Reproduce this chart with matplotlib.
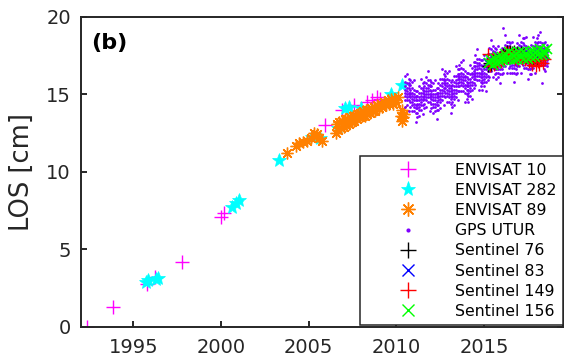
import matplotlib
matplotlib.use("Agg")
import matplotlib.pyplot as plt
from matplotlib.lines import Line2D
import numpy as np

# ---- data (years, LOS in cm) ----
env10_t = [1992.35, 1993.85, 1995.76, 1996.25, 1997.8, 2000.0, 2000.2, 2005.95,
           2006.9, 2007.6, 2008.3, 2008.6, 2008.9, 2009.05]
env10_los = [0.0, 1.25, 2.75, 3.2, 4.2, 7.05, 7.35, 13.0,
             14.0, 14.3, 14.5, 14.6, 14.8, 14.7]

env282_t = [1995.7, 1995.85, 1996.3, 1996.4, 2000.6, 2000.85, 2001.0, 2003.3,
            2005.2, 2005.65, 2006.7, 2007.1, 2007.3, 2008.0, 2009.7, 2010.3]
env282_los = [2.9, 3.0, 3.05, 3.15, 7.75, 8.0, 8.2, 10.75,
              12.25, 12.2, 12.85, 14.1, 14.2, 14.1, 15.0, 15.6]

env89_t = [2003.75, 2004.25, 2004.45, 2004.65, 2004.9, 2005.15, 2005.3, 2005.4,
           2005.5, 2005.6, 2005.75,
           2006.55, 2006.6, 2006.7, 2006.75, 2006.85, 2006.9, 2007.0, 2007.05,
           2007.15, 2007.2, 2007.3, 2007.35, 2007.45, 2007.5, 2007.6, 2007.65,
           2007.75, 2007.8, 2007.9, 2007.95, 2008.05, 2008.1, 2008.2, 2008.25,
           2008.35, 2008.4, 2008.5, 2008.55, 2008.65, 2008.7, 2008.8, 2008.9,
           2009.0, 2009.1, 2009.2, 2009.3, 2009.4, 2009.5, 2009.6, 2009.7,
           2009.8, 2009.9, 2010.0, 2010.1,
           2010.25, 2010.3, 2010.35, 2010.4, 2010.45]
env89_los = [11.2, 11.65, 11.85, 11.9, 11.95, 12.2, 12.5, 12.3,
             12.45, 12.2, 11.95,
             12.5, 13.1, 12.7, 13.2, 12.8, 13.3, 12.9, 13.4,
             13.0, 13.4, 13.1, 13.5, 13.2, 13.6, 13.3, 13.6,
             13.4, 13.7, 13.5, 13.8, 13.6, 13.9, 13.6, 14.0,
             13.7, 14.0, 13.8, 14.1, 13.9, 14.2, 13.9, 14.3,
             14.1, 14.4, 14.2, 14.5, 14.3, 14.6, 14.4, 14.7,
             14.4, 14.7, 14.5, 14.8,
             13.6, 14.0, 13.3, 13.5, 13.7]

# GPS UTUR: one row of readings per 0.1-year column of the cloud
gps_t = [2010.5, 2010.6, 2010.7, 2010.8, 2010.9, 2011.0, 2011.1, 2011.2, 2011.3,
         2011.4, 2011.5, 2011.6, 2011.7, 2011.8, 2011.9, 2012.0, 2012.1, 2012.2,
         2012.3, 2012.4, 2012.5, 2012.6, 2012.7, 2012.8, 2012.9, 2013.0, 2013.1,
         2013.2, 2013.3, 2013.4, 2013.5, 2013.6, 2013.7, 2013.8, 2013.9, 2014.0,
         2014.1, 2014.2, 2014.3, 2014.4, 2014.5, 2014.6, 2014.7, 2014.8, 2014.9,
         2015.0, 2015.1, 2015.2, 2015.3, 2015.4, 2015.5, 2015.6, 2015.7, 2015.8,
         2015.9, 2016.0, 2016.1, 2016.2, 2016.3, 2016.4, 2016.5, 2016.6, 2016.7,
         2016.8, 2016.9, 2017.0, 2017.1, 2017.2, 2017.3, 2017.4, 2017.5, 2017.6,
         2017.7, 2017.8, 2017.9, 2018.0, 2018.1, 2018.2, 2018.3, 2018.4, 2018.5,
         2018.6]
gps_los = [
    [14.2, 14.6, 14.9, 15.1, 15.3, 15.5, 15.8, 16.2],
    [14.3, 14.6, 14.8, 15.0, 15.2, 15.4, 15.7, 16.3],
    [13.9, 14.6, 14.9, 15.1, 15.4, 15.6, 15.7, 16.0],
    [14.2, 14.5, 14.8, 15.0, 15.1, 15.3, 15.6, 15.9],
    [13.9, 14.3, 14.5, 14.7, 14.9, 15.1, 15.4, 15.8],
    [13.9, 14.2, 14.4, 14.6, 14.8, 15.0, 15.3, 15.9],
    [13.2, 13.8, 14.1, 14.3, 14.6, 14.8, 14.9, 15.2],
    [13.5, 13.8, 14.1, 14.3, 14.4, 14.6, 14.9, 15.2],
    [13.6, 14.0, 14.2, 14.4, 14.6, 14.8, 15.1, 15.5],
    [14.0, 14.3, 14.5, 14.7, 14.9, 15.1, 15.4, 16.0],
    [13.7, 14.3, 14.6, 14.8, 15.1, 15.3, 15.4, 15.7],
    [14.1, 14.4, 14.7, 14.9, 15.0, 15.2, 15.5, 15.8],
    [14.2, 14.6, 14.8, 15.0, 15.2, 15.4, 15.7, 16.1],
    [14.5, 14.8, 15.0, 15.2, 15.4, 15.6, 15.9, 16.5],
    [13.9, 14.5, 14.8, 15.0, 15.3, 15.5, 15.6, 15.9],
    [14.1, 14.4, 14.7, 14.9, 15.0, 15.2, 15.5, 15.8],
    [13.8, 14.2, 14.4, 14.6, 14.8, 15.0, 15.3, 15.7],
    [13.9, 14.2, 14.4, 14.6, 14.8, 15.0, 15.3, 15.9],
    [13.4, 14.0, 14.3, 14.5, 14.8, 15.0, 15.1, 15.4],
    [14.0, 14.3, 14.6, 14.8, 14.9, 15.1, 15.4, 15.7],
    [14.1, 14.5, 14.7, 14.9, 15.1, 15.3, 15.6, 16.0],
    [14.6, 14.9, 15.1, 15.3, 15.5, 15.7, 16.0, 16.6],
    [14.3, 14.9, 15.2, 15.4, 15.7, 15.9, 16.0, 16.3],
    [14.8, 15.1, 15.4, 15.6, 15.7, 15.9, 16.2, 16.5],
    [14.5, 14.9, 15.1, 15.3, 15.5, 15.7, 16.0, 16.4],
    [14.5, 14.8, 15.0, 15.2, 15.4, 15.6, 15.9, 16.5],
    [13.8, 14.4, 14.7, 14.9, 15.2, 15.4, 15.5, 15.8],
    [14.2, 14.5, 14.8, 15.0, 15.1, 15.3, 15.6, 15.9],
    [14.3, 14.7, 14.9, 15.1, 15.3, 15.5, 15.8, 16.2],
    [14.8, 15.1, 15.3, 15.5, 15.7, 15.9, 16.2, 16.8],
    [14.6, 15.2, 15.5, 15.7, 16.0, 16.2, 16.3, 16.6],
    [15.2, 15.5, 15.8, 16.0, 16.1, 16.3, 16.6, 16.9],
    [15.2, 15.6, 15.8, 16.0, 16.2, 16.4, 16.7, 17.1],
    [15.2, 15.5, 15.7, 15.9, 16.1, 16.3, 16.6, 17.2],
    [14.5, 15.1, 15.4, 15.6, 15.9, 16.1, 16.2, 16.5],
    [14.7, 15.0, 15.3, 15.5, 15.6, 15.8, 16.1, 16.4],
    [14.5, 14.9, 15.1, 15.3, 15.5, 15.7, 16.0, 16.4],
    [14.9, 15.2, 15.4, 15.6, 15.8, 16.0, 16.3, 16.9],
    [14.7, 15.3, 15.6, 15.8, 16.1, 16.3, 16.4, 16.7],
    [15.4, 15.7, 16.0, 16.2, 16.3, 16.5, 16.8, 17.1],
    [15.6, 16.0, 16.2, 16.4, 16.6, 16.8, 17.1, 17.5],
    [15.9, 16.2, 16.4, 16.6, 16.8, 17.0, 17.3, 17.9],
    [15.3, 15.9, 16.2, 16.4, 16.7, 16.9, 17.0, 17.3],
    [15.5, 15.8, 16.1, 16.3, 16.4, 16.6, 16.9, 17.2],
    [15.3, 15.7, 15.9, 16.1, 16.3, 16.5, 16.8, 17.2],
    [15.5, 15.8, 16.0, 16.2, 16.4, 16.6, 16.9, 17.5],
    [15.2, 15.8, 16.1, 16.3, 16.6, 16.8, 16.9, 17.2],
    [15.9, 16.2, 16.5, 16.7, 16.8, 17.0, 17.3, 17.6],
    [16.1, 16.5, 16.7, 16.9, 17.1, 17.3, 17.6, 18.0],
    [16.5, 16.8, 17.0, 17.2, 17.4, 17.6, 17.9, 18.5],
    [16.1, 16.7, 17.0, 17.2, 17.5, 17.7, 17.8, 18.1],
    [16.3, 16.6, 16.9, 17.1, 17.2, 17.4, 17.7, 18.0],
    [16.0, 16.4, 16.6, 16.8, 17.0, 17.2, 17.5, 17.9],
    [16.1, 16.4, 16.6, 16.8, 17.0, 17.2, 17.5, 18.1],
    [15.7, 16.3, 16.6, 16.8, 17.1, 17.3, 17.4, 17.7],
    [16.3, 16.6, 16.9, 17.1, 17.2, 17.4, 17.7, 18.0],
    [16.4, 16.8, 17.0, 17.2, 17.4, 17.6, 17.9, 19.3],
    [16.8, 17.1, 17.3, 17.5, 17.7, 17.9, 18.2, 18.8],
    [16.4, 17.0, 17.3, 17.5, 17.8, 18.0, 18.1, 18.4],
    [16.7, 17.0, 17.3, 17.5, 17.6, 17.8, 18.1, 18.4],
    [16.4, 16.8, 17.0, 17.2, 17.4, 17.6, 17.9, 18.3],
    [16.4, 16.7, 16.9, 17.1, 17.3, 17.5, 17.8, 18.4],
    [15.8, 16.4, 16.7, 16.9, 17.2, 17.4, 17.5, 17.8],
    [16.3, 16.6, 16.9, 17.1, 17.2, 17.4, 17.7, 18.0],
    [16.4, 16.8, 17.0, 17.2, 17.4, 17.6, 17.9, 18.3],
    [16.8, 17.1, 17.3, 17.5, 17.7, 17.9, 18.2, 18.8],
    [16.4, 17.0, 17.3, 17.5, 17.8, 18.0, 18.1, 18.4],
    [16.9, 17.2, 17.5, 17.7, 17.8, 18.0, 18.3, 18.6],
    [16.7, 17.1, 17.3, 17.5, 17.7, 17.9, 18.2, 18.6],
    [16.7, 17.0, 17.2, 17.4, 17.6, 17.8, 18.1, 18.7],
    [16.0, 16.6, 16.9, 17.1, 17.4, 17.6, 17.7, 18.0],
    [16.3, 16.6, 16.9, 17.1, 17.2, 17.4, 17.7, 18.0],
    [16.3, 16.7, 16.9, 17.1, 17.3, 17.5, 17.8, 18.2],
    [16.7, 17.0, 17.2, 17.4, 17.6, 17.8, 18.1, 18.7],
    [16.4, 17.0, 17.3, 17.5, 17.8, 18.0, 18.1, 18.4],
    [16.9, 17.2, 17.5, 17.7, 17.8, 18.0, 18.3, 18.6],
    [16.9, 17.3, 17.5, 17.7, 17.9, 18.1, 18.4, 18.8],
    [17.0, 17.3, 17.5, 17.7, 17.9, 18.1, 18.4, 19.0],
    [15.7, 16.9, 17.2, 17.4, 17.7, 17.9, 18.0, 18.3],
    [16.6, 16.9, 17.2, 17.4, 17.5, 17.7, 18.0, 18.3],
    [16.5, 16.9, 17.1, 17.3, 17.5, 17.7, 18.0, 18.4],
    [16.8, 17.0, 17.2, 17.4, 17.5, 17.7, 17.9, 18.2],
]

s76_t = [2015.2, 2015.3, 2015.4, 2015.5, 2015.6, 2015.7, 2015.8, 2015.9, 2016.0,
         2016.1, 2016.2, 2016.3, 2016.4, 2016.5, 2016.6, 2016.7, 2016.8, 2016.9,
         2017.0, 2017.1, 2017.2, 2017.3, 2017.4, 2017.5, 2017.6, 2017.7, 2017.8,
         2017.9, 2018.0, 2018.1, 2018.2]
s76_los = [16.8, 17.0, 16.9, 17.2, 17.1, 17.3, 17.3, 17.4, 17.4,
           17.6, 17.5, 17.8, 17.7, 17.8, 17.7, 17.8, 17.6, 17.7,
           17.6, 17.7, 17.5, 17.6, 17.4, 17.5, 17.4, 17.4, 17.3,
           17.4, 17.3, 17.5, 17.4]

s83_t = [2015.2, 2015.4, 2015.6, 2015.8, 2016.0, 2016.2, 2016.4, 2016.6, 2016.8,
         2017.0, 2017.2, 2017.4, 2017.6, 2017.8, 2018.0, 2018.2, 2018.4]
s83_los = [17.0, 17.1, 17.2, 17.2, 17.3, 17.4, 17.4, 17.5, 17.4,
           17.5, 17.5, 17.4, 17.5, 17.5, 17.6, 17.6, 17.6]

s149_t = [2015.25, 2015.35, 2015.45, 2015.55, 2015.65, 2015.75, 2015.85, 2015.95,
          2016.05, 2016.15, 2016.25, 2016.35, 2016.45, 2016.55, 2016.65, 2016.75,
          2016.85, 2016.95, 2017.05, 2017.15, 2017.25, 2017.35, 2017.45, 2017.55,
          2017.65, 2017.75, 2017.85, 2017.95, 2018.05, 2018.15, 2018.25, 2018.35,
          2018.45]
s149_los = [17.6, 16.8, 17.3, 16.9, 17.2, 17.0, 17.4, 17.1,
            17.5, 17.3, 17.7, 17.4, 17.7, 17.4, 17.6, 17.3,
            17.6, 17.2, 17.5, 17.3, 17.5, 17.2, 17.4, 17.1,
            17.3, 16.9, 17.2, 16.8, 17.1, 16.9, 17.2, 17.0,
            17.3]

s156_t = [2015.3, 2015.4, 2015.5, 2015.6, 2015.7, 2015.8, 2015.9, 2016.0, 2016.1,
          2016.2, 2016.3, 2016.4, 2016.5, 2016.6, 2016.7, 2016.8, 2016.9, 2017.0,
          2017.1, 2017.2, 2017.3, 2017.4, 2017.5, 2017.6, 2017.7, 2017.8, 2017.9,
          2018.0, 2018.1, 2018.2, 2018.3, 2018.4, 2018.5, 2018.6]
s156_los = [17.0, 17.2, 16.9, 17.3, 17.0, 17.4, 17.1, 17.4, 17.2,
            17.6, 17.3, 17.7, 17.3, 17.6, 17.2, 17.6, 17.3, 17.7,
            17.4, 17.7, 17.3, 17.6, 17.3, 17.7, 17.4, 17.8, 17.4,
            17.8, 17.5, 17.9, 17.5, 17.8, 17.6, 17.9]

labels = ["ENVISAT 10", "ENVISAT 282", "ENVISAT 89", "GPS UTUR",
          "Sentinel 76", "Sentinel 83", "Sentinel 149", "Sentinel 156"]
x_ticks = [1995, 2000, 2005, 2010, 2015]
y_ticks = [0, 5, 10, 15, 20]

AX_COLOR = "#262626"
ASTERISK = (8, 2, 0)

plt.rcParams["font.family"] = "DejaVu Sans"
fig = plt.figure(figsize=(5.65, 3.61), dpi=100)
ax = fig.add_axes([0.1428, 0.095, 0.8536, 0.8587])

ax.plot(env10_t, env10_los, ls="none", marker="+", ms=9.5, mew=1.0, color="#ff00ff")
ax.plot(env282_t, env282_los, ls="none", marker="*", ms=10, mew=0.5, color="#00ffff")
ax.plot(env89_t, env89_los, ls="none", marker=ASTERISK, ms=8.5, mew=1.0, color="#ff8000")

gps_x = np.repeat(gps_t, [len(r) for r in gps_los])
gps_y = np.concatenate(gps_los)
ax.plot(gps_x, gps_y, ls="none", marker="o", ms=2.0, mew=0, color="#7f00ff")

ax.plot(s76_t, s76_los, ls="none", marker="+", ms=8, mew=1.0, color="black")
ax.plot(s83_t, s83_los, ls="none", marker="x", ms=6.5, mew=1.0, color="#0000ff")
ax.plot(s149_t, s149_los, ls="none", marker="+", ms=8, mew=1.0, color="#ff0000")
ax.plot(s156_t, s156_los, ls="none", marker="x", ms=6.5, mew=1.2, color="#00ff00")

ax.set_xlim(1992.0, 2019.5)
ax.set_ylim(0, 20)
ax.set_xticks(x_ticks)
ax.set_yticks(y_ticks)
ax.tick_params(direction="in", length=4.5, width=1.4, colors=AX_COLOR,
               labelsize=14, right=True, top=False)
ax.tick_params(axis="x", pad=8)
ax.tick_params(axis="y", pad=7)
for s in ax.spines.values():
    s.set_linewidth(1.4)
    s.set_color(AX_COLOR)
ax.set_ylabel("LOS [cm]", fontsize=18.5, color=AX_COLOR, labelpad=8)

ax.text(0.022, 0.916, "(b)", transform=ax.transAxes, ha="left", va="center",
        fontsize=16, fontweight="bold", color="black")

# legend proxies (legend icons are drawn a bit larger than the data marks)
handles = [
    Line2D([], [], ls="none", marker="+", ms=11, mew=1.0, color="#ff00ff"),
    Line2D([], [], ls="none", marker="*", ms=11, mew=0.5, color="#00ffff"),
    Line2D([], [], ls="none", marker=ASTERISK, ms=10, mew=1.0, color="#ff8000"),
    Line2D([], [], ls="none", marker="o", ms=3, mew=0, color="#7f00ff"),
    Line2D([], [], ls="none", marker="+", ms=11, mew=1.0, color="black"),
    Line2D([], [], ls="none", marker="x", ms=8, mew=1.0, color="#0000ff"),
    Line2D([], [], ls="none", marker="+", ms=11, mew=1.0, color="#ff0000"),
    Line2D([], [], ls="none", marker="x", ms=8, mew=1.0, color="#00ff00"),
]
leg = ax.legend(handles, labels, loc="lower right", bbox_to_anchor=(1.0, 0.005),
                borderaxespad=0, fontsize=11.3, handlelength=5.3, handletextpad=0.34,
                borderpad=0.4, labelspacing=0.33, fancybox=False, framealpha=1,
                edgecolor=AX_COLOR)
leg.get_frame().set_linewidth(1.1)

fig.savefig("out.png", dpi=100)
